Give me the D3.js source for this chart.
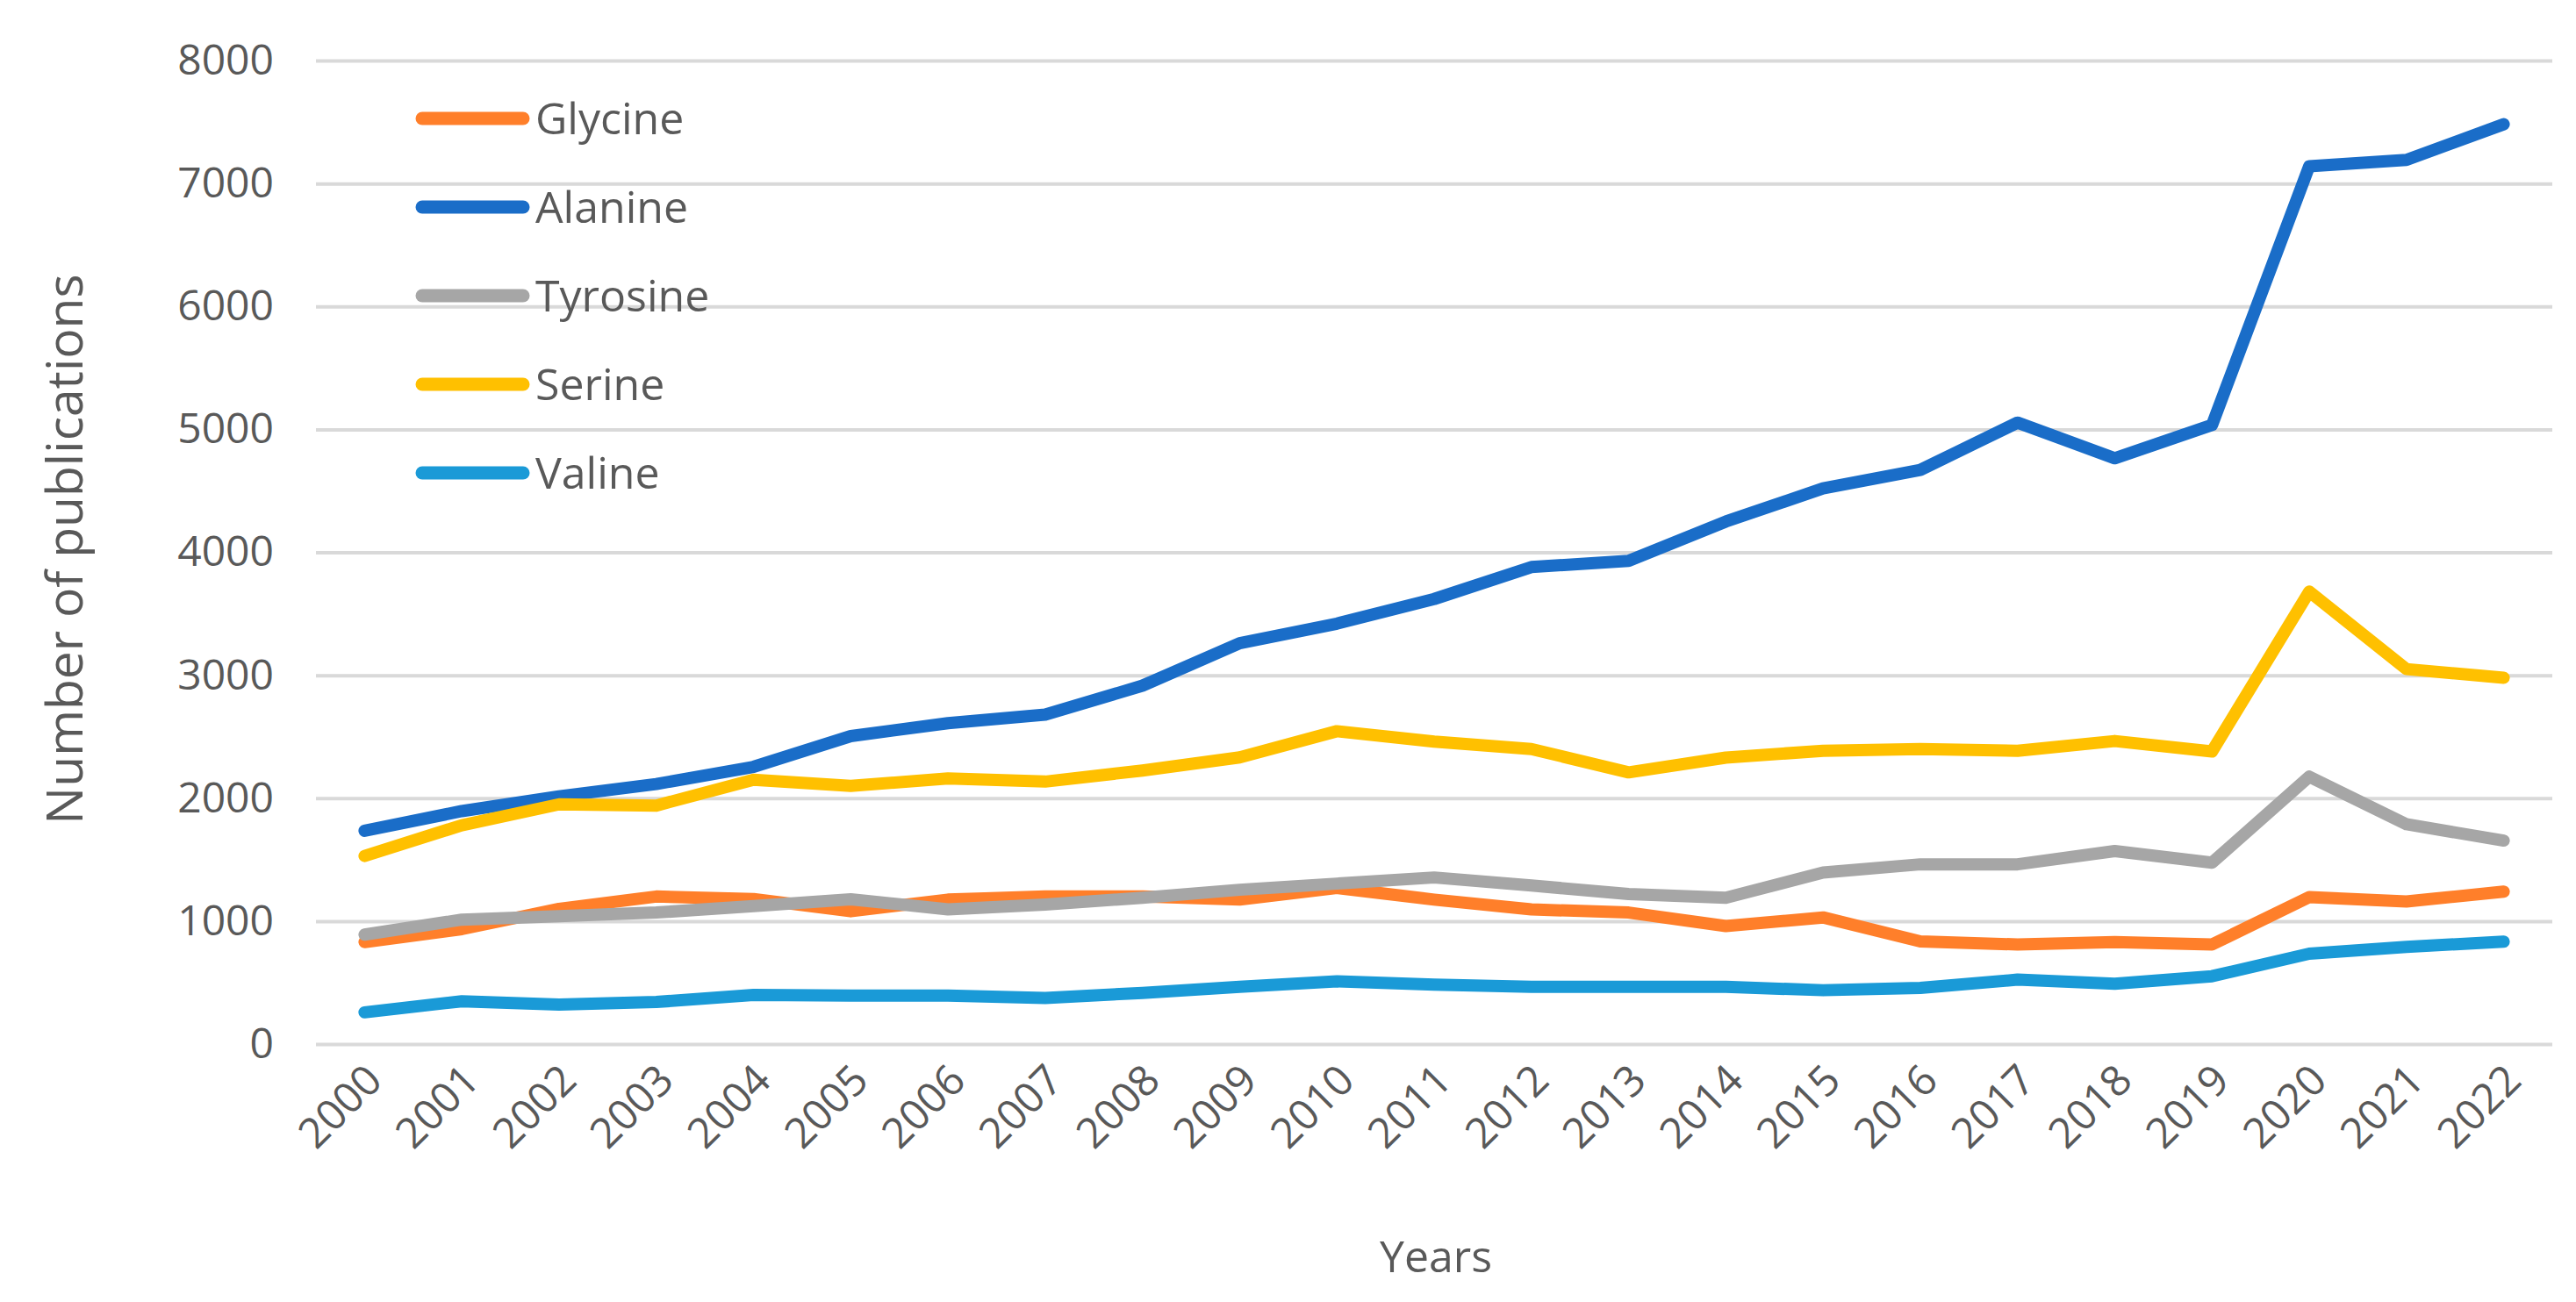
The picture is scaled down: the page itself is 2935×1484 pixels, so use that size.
<!DOCTYPE html>
<html>
<head>
<meta charset="utf-8">
<script src="https://cdn.jsdelivr.net/npm/d3@7"></script>
<style>
  html, body { margin: 0; padding: 0; background: #ffffff; }
  svg { display: block; }
  text { font-family: "Open Sans", "DejaVu Sans", sans-serif; fill: #595959; }
</style>
</head>
<body>
<svg id="chart" width="2935" height="1484"></svg>
<script>
const years = ["2000","2001","2002","2003","2004","2005","2006","2007","2008","2009","2010","2011","2012","2013","2014","2015","2016","2017","2018","2019","2020","2021","2022"];
const seriesNames = ["Glycine", "Alanine", "Tyrosine", "Serine", "Valine"];
const seriesColors = ["#FF7F2A", "#1A6DC8", "#A6A6A6", "#FFC000", "#1A9AD7"];
const glycine  = [830, 935, 1100, 1200, 1180, 1080, 1175, 1200, 1200, 1175, 1270, 1175, 1095, 1070, 960, 1030, 835, 810, 830, 810, 1195, 1160, 1240];
const alanine  = [1735, 1895, 2015, 2115, 2255, 2505, 2610, 2680, 2915, 3260, 3420, 3620, 3880, 3930, 4250, 4520, 4670, 5055, 4765, 5035, 7140, 7192, 7482];
const tyrosine = [890, 1012, 1040, 1070, 1122, 1178, 1095, 1135, 1190, 1255, 1305, 1355, 1290, 1220, 1190, 1395, 1462, 1462, 1570, 1475, 2175, 1788, 1655];
const serine   = [1530, 1780, 1950, 1940, 2150, 2100, 2160, 2135, 2225, 2332, 2545, 2460, 2400, 2210, 2330, 2386, 2400, 2386, 2465, 2380, 3680, 3050, 2980];
const valine   = [258, 348, 322, 342, 400, 395, 394, 375, 416, 465, 510, 484, 465, 465, 465, 438, 457, 524, 490, 552, 735, 790, 833];
const yTicks = [0, 1000, 2000, 3000, 4000, 5000, 6000, 7000, 8000];
const xTitle = "Years";
const yTitle = "Number of publications";

const seriesValues = [glycine, alanine, tyrosine, serine, valine];
const series = seriesNames.map((name, i) => ({
  name, color: seriesColors[i],
  points: years.map((y, j) => ({ year: y, value: seriesValues[i][j] }))
}));

const svg = d3.select("#chart");
const plotLeft = 360, plotRight = 2908, plotTop = 69, plotBottom = 1190;

const x = d3.scalePoint().domain(years).range([plotLeft, plotRight]).padding(0.5);
const y = d3.scaleLinear().domain([0, 8000]).range([plotBottom, plotTop]);

// gridlines + y labels
const yAxis = d3.axisLeft(y).tickValues(yTicks).tickSize(-(plotRight - plotLeft)).tickPadding(48).tickFormat(d3.format("d"));
const gy = svg.append("g").attr("transform", `translate(${plotLeft},0)`).call(yAxis);
gy.select(".domain").remove();
gy.selectAll(".tick line").attr("stroke", "#D9D9D9").attr("stroke-width", 4);
gy.selectAll(".tick text").attr("font-size", 48).attr("fill", "#595959")
  .style("font-family", '"Open Sans", sans-serif');

// x axis labels
const xAxis = d3.axisBottom(x).tickSize(0).tickPadding(0);
const gx = svg.append("g").attr("transform", `translate(0,${plotBottom})`).call(xAxis);
gx.select(".domain").remove();
gx.selectAll(".tick text")
  .attr("font-size", 48)
  .attr("fill", "#595959")
  .attr("text-anchor", "end")
  .attr("dy", null)
  .attr("y", null)
  .attr("transform", "translate(22,44) rotate(-45)")
  .style("font-family", '"Open Sans", sans-serif');

// lines
const line = d3.line().x(d => x(d.year)).y(d => y(d.value));
svg.append("g").selectAll("path").data(series).join("path")
  .attr("d", d => line(d.points))
  .attr("fill", "none")
  .attr("stroke", d => d.color)
  .attr("stroke-width", 14)
  .attr("stroke-linejoin", "round")
  .attr("stroke-linecap", "round");

// legend
const legendY = d3.scalePoint().domain(seriesNames).range([135, 539]);
const lg = svg.append("g");
const items = lg.selectAll("g").data(series).join("g")
  .attr("transform", d => `translate(0,${legendY(d.name)})`);
items.append("line").attr("x1", 481).attr("x2", 596).attr("y1", 0).attr("y2", 0)
  .attr("stroke", d => d.color).attr("stroke-width", 15).attr("stroke-linecap", "round");
items.append("text").attr("x", 610).attr("y", 0).attr("dy", "0.35em")
  .attr("font-size", 50).text(d => d.name);

// axis titles
svg.append("text").attr("x", 1636).attr("y", 1450).attr("text-anchor", "middle")
  .attr("font-size", 50).text(xTitle);
svg.append("text").attr("transform", "translate(94,626) rotate(-90)").attr("text-anchor", "middle")
  .attr("font-size", 57).text(yTitle);
</script>
</body>
</html>
